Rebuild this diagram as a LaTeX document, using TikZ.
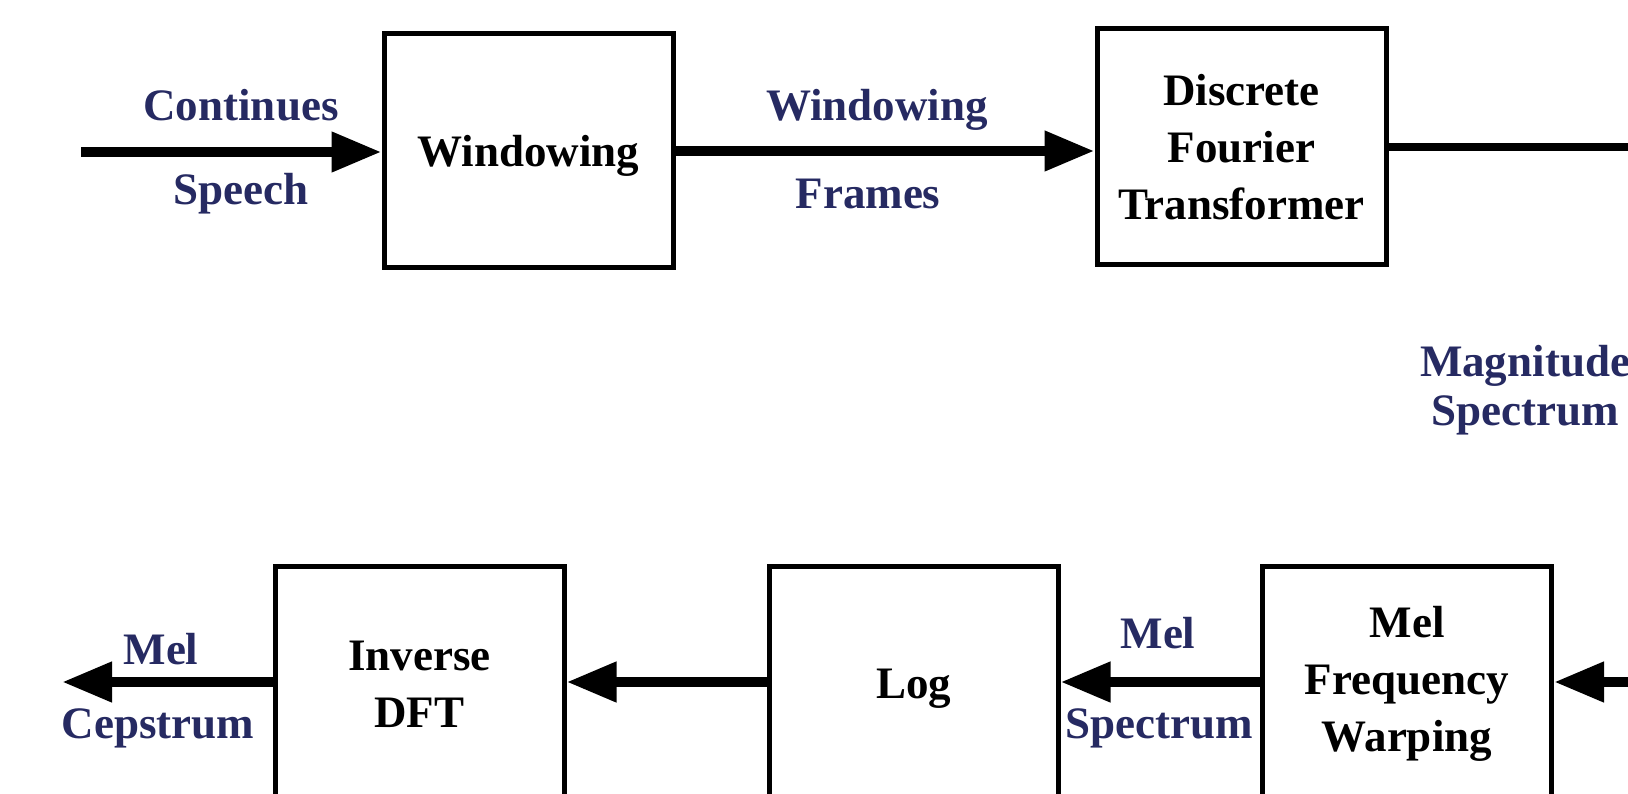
\documentclass[tikz,border=0pt]{standalone}
\usepackage{fontspec}
\setmainfont{Liberation Serif}
\usetikzlibrary{arrows.meta}
\definecolor{lblue}{RGB}{38,42,98}
\begin{document}
\begin{tikzpicture}[x=1pt,y=-1pt,
  block/.style={draw=black,line width=5pt,minimum width=289pt,minimum height=236pt,inner sep=0pt,align=center,font=\fontsize{45}{57}\selectfont\bfseries},
  lbl/.style={text=lblue,font=\fontsize{45}{57}\selectfont\bfseries,inner sep=0pt},
  flow/.style={line width=10.5pt,-{Triangle[length=50pt,width=38pt]}},
  plain/.style={line width=8pt}
  ]
\useasboundingbox (0,0) rectangle (1628,794);
\clip (0,0) rectangle (1628,794);
\fill[white] (0,0) rectangle (1628,794);

% blocks
\node[block,minimum height=234pt,text depth=0pt] (win) at (528.5,151) {Windowing};
\node[block] (dft) at (1241.5,147) {Discrete\\Fourier\\Transformer};
\node[block] (idft) at (419.5,684) {Inverse\\DFT};
\node[block,text depth=0pt] (log) at (913.5,684) {Log};
\node[block] (mfw) at (1407,684) {Mel\\Frequency\\Warping};

% free ends
\coordinate (in) at (81,152);
\coordinate (outR) at (1650,148);
\coordinate (inR) at (1650,682);
\coordinate (outL) at (62,682);

% connectors
\draw[flow] (in) -- (win.west |- in);
\draw[flow] (win.east) -- (dft.west |- win.east);
\draw[plain] (dft.east) -- (outR |- dft.east);
\draw[flow] (inR) -- (mfw.east |- inR);
\draw[flow] (mfw.west |- inR) -- (log.east |- inR);
\draw[flow] (log.west |- inR) -- (idft.east |- inR);
\draw[flow] (idft.west |- inR) -- (outL);

% labels
\node[lbl] (cs1) at (241,105) {Continues};
\node[lbl] (cs2) at (241,194) {Speech};
\node[lbl] (wf1) at (877,110) {Windowing};
\node[lbl] (wf2) at (868,194) {Frames};
\node[lbl] (ms1) at (1525,366) {Magnitude};
\node[lbl] (ms2) at (1525,415) {Spectrum};
\node[lbl] (mel1) at (1158,633) {Mel};
\node[lbl] (mel2) at (1159,728) {Spectrum};
\node[lbl] (mc1) at (161,649) {Mel};
\node[lbl] (mc2) at (158,728) {Cepstrum};
\end{tikzpicture}
\end{document}
